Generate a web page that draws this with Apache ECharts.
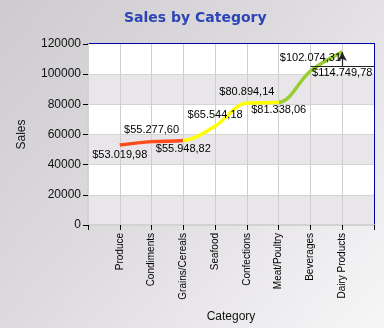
<!DOCTYPE html>
<html>
<head>
<meta charset="utf-8">
<script src="https://cdn.jsdelivr.net/npm/echarts@6/dist/echarts.min.js"></script>
<style>
  html, body { margin: 0; padding: 0; }
  #chart { width: 384px; height: 328px; }
</style>
</head>
<body>
<div id="chart"></div>
<script>
// Sales totals per product category
const categories = ['Produce', 'Condiments', 'Grains/Cereals', 'Seafood', 'Confections', 'Meat/Poultry', 'Beverages', 'Dairy Products'];
const sales = [53019.98, 55277.60, 55948.82, 65544.18, 80894.14, 81338.06, 102074.31, 114749.78];
// where each value label sits relative to its point
const labelSide = ['bottom', 'top', 'bottom', 'top', 'top', 'bottom', 'top', 'bottom'];
const labelGap = [4, 6, 2, 5, 5, 2, 7, 15];
const yTicks = [0, 20000, 40000, 60000, 80000, 100000, 120000];
// level of the callout bar under the last point's label
const calloutLevel = 105500;

function money(v) {
  const parts = v.toFixed(2).split('.');
  const whole = parts[0].replace(/\B(?=(\d{3})+(?!\d))/g, '.');
  return '$' + whole + ',' + parts[1];
}

const font = 'Liberation Sans, Arial, sans-serif';
const points = sales.map(function (v, i) { return [i + 1, v]; });
const chart = echarts.init(document.getElementById('chart'));

chart.setOption({
  backgroundColor: {
    type: 'linear', x: 0, y: 0, x2: 1, y2: 1,
    colorStops: [
      { offset: 0, color: '#cdcbce' },
      { offset: 0.45, color: '#dddbde' },
      { offset: 0.7, color: '#e9e7ea' },
      { offset: 1, color: '#f7f6f7' }
    ]
  },
  title: {
    text: 'Sales by Category',
    left: 119, top: 6,
    textStyle: { color: '#2b45b6', fontSize: 14, fontWeight: 'bold', fontFamily: 'DejaVu Sans, Verdana, sans-serif' }
  },
  grid: {
    left: 88, right: 10, top: 44, bottom: 101,
    show: true, backgroundColor: '#ffffff', borderColor: '#0000a8', borderWidth: 2
  },
  visualMap: {
    show: false, type: 'piecewise', dimension: 0, seriesIndex: 0,
    pieces: [
      { lte: 3, color: '#ff4a1a' },
      { gt: 3, lte: 6, color: '#ffff00' },
      { gt: 6, color: '#9acd32' }
    ]
  },
  xAxis: {
    type: 'value', min: 0, max: categories.length + 1, interval: 1,
    name: 'Category', nameLocation: 'middle', nameGap: 86,
    nameTextStyle: { color: '#111', fontSize: 12, fontFamily: font },
    axisLine: { show: true, lineStyle: { color: '#d2d2d2', width: 2 } },
    axisTick: { show: true, length: 5, lineStyle: { color: '#000' } },
    splitLine: { show: true, showMinLine: false, showMaxLine: false, lineStyle: { color: '#cfcfcf', width: 1 } },
    axisLabel: {
      rotate: 90, margin: 8, fontSize: 10, color: '#000', fontFamily: font,
      formatter: function (v) {
        const i = Math.round(v) - 1;
        return (i >= 0 && i < categories.length) ? categories[i] : '';
      }
    }
  },
  yAxis: {
    type: 'value', min: yTicks[0], max: yTicks[yTicks.length - 1], interval: 20000,
    name: 'Sales', nameLocation: 'middle', nameGap: 60, nameRotate: 90,
    nameTextStyle: { color: '#111', fontSize: 12, fontFamily: font },
    axisLine: { show: true, lineStyle: { color: '#d2d2d2', width: 2 } },
    axisTick: { show: true, length: 5, lineStyle: { color: '#000' } },
    axisLabel: { margin: 7, fontSize: 12, color: '#111', fontFamily: font, formatter: function (v) { return String(v); } },
    splitLine: { show: true, showMinLine: false, showMaxLine: false, lineStyle: { color: '#d4d4d4', width: 1 } },
    splitArea: { show: true, areaStyle: { color: ['#e8e6e9', '#ffffff'] } }
  },
  series: [{
    type: 'line',
    smooth: 0.35,
    showSymbol: false,
    lineStyle: { width: 3.5 },
    data: points,
    markLine: {
      silent: true,
      symbol: ['none', 'none'],
      label: { show: false },
      lineStyle: { color: '#222', width: 1.2, type: 'solid' },
      data: [
        [{ coord: [categories.length - 1, calloutLevel] }, { coord: [categories.length + 1, calloutLevel] }],
        [{ coord: [categories.length, calloutLevel] }, { coord: [categories.length, sales[sales.length - 1]], symbol: 'arrow', symbolSize: [7, 9] }]
      ]
    }
  }, {
    // value labels for each point
    type: 'scatter',
    symbolSize: 1,
    itemStyle: { color: 'rgba(0,0,0,0)', opacity: 1 },
    silent: true,
    z: 5,
    data: points.map(function (p, i) {
      return {
        value: p,
        label: {
          show: true, position: labelSide[i], distance: labelGap[i],
          formatter: money(p[1]), color: '#000', fontSize: 11, fontFamily: font
        }
      };
    })
  }]
});
</script>
</body>
</html>
